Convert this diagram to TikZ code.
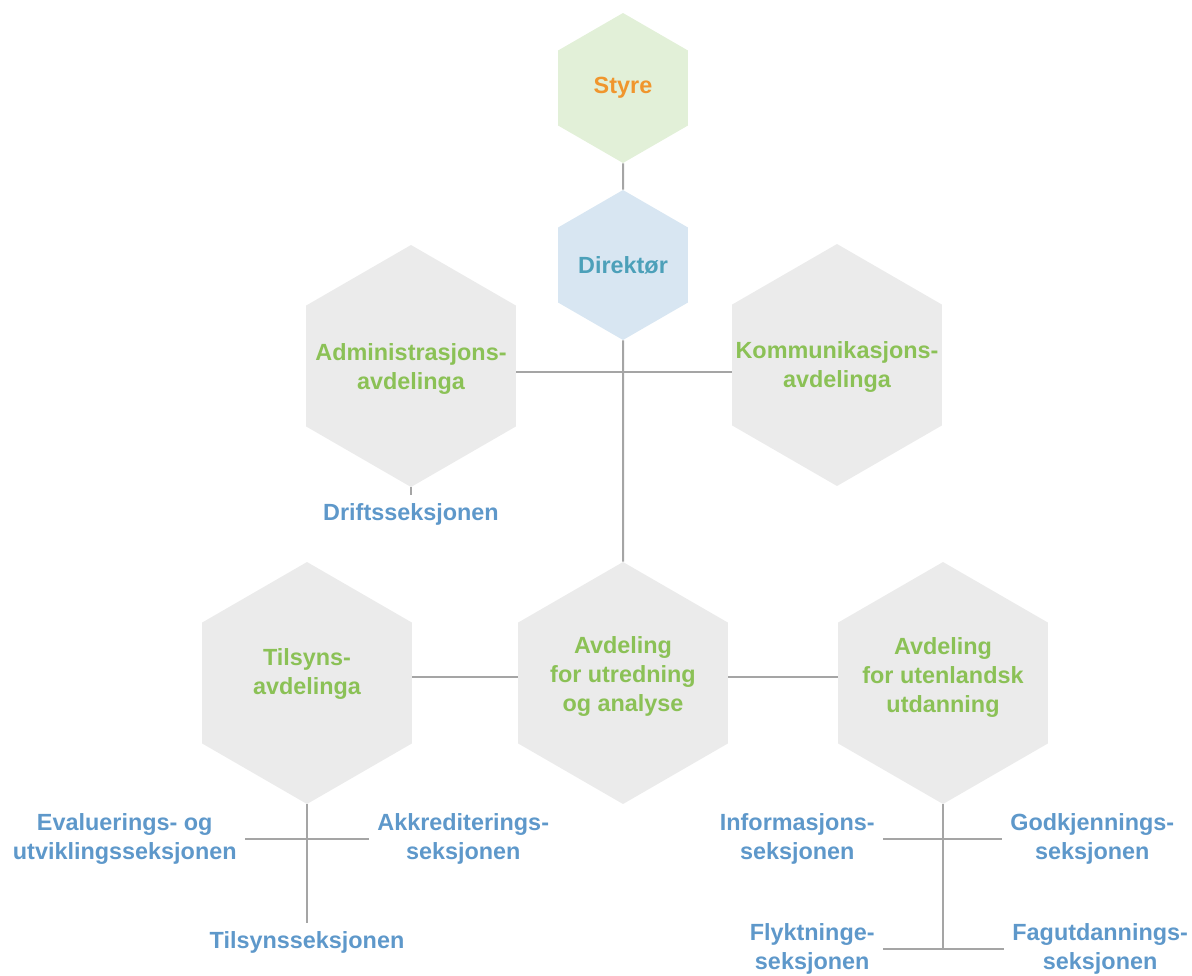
\documentclass[tikz,border=0pt]{standalone}
\usepackage{fontspec}
\setmainfont{Liberation Sans}
\usetikzlibrary{shapes.geometric}

\definecolor{hexgrey}{RGB}{235,235,235}
\definecolor{styrefill}{RGB}{226,240,216}
\definecolor{dirfill}{RGB}{216,230,242}
\definecolor{deptgreen}{RGB}{139,193,86}
\definecolor{styreorange}{RGB}{240,150,45}
\definecolor{dirteal}{RGB}{76,160,185}
\definecolor{sectblue}{RGB}{94,152,202}
\definecolor{linegrey}{RGB}{165,165,165}

\tikzset{
	hexshape/.style={regular polygon, regular polygon sides=6, shape border rotate=30, draw=none, inner sep=0pt},
	bighex/.style={hexshape, fill=hexgrey, minimum size=121pt},
	smallhex/.style={hexshape, minimum size=75pt, font=\bfseries\fontsize{11.7}{14.5}\selectfont},
	depttxt/.style={font=\bfseries\fontsize{11.7}{14.5}\selectfont, text=deptgreen, align=center, inner sep=0pt},
	secttxt/.style={font=\bfseries\fontsize{11.7}{14.5}\selectfont, text=sectblue, align=center, inner sep=4pt},
	conn/.style={draw=linegrey, line width=1pt}
}

\begin{document}
\begin{tikzpicture}[x=0.5pt, y=-0.5pt]
	\useasboundingbox (0,0) rectangle (1192,975);

	\node[smallhex, fill=styrefill, text=styreorange] (styre) at (623,88) {Styre};
	\node[smallhex, fill=dirfill, text=dirteal] (dir) at (623,265) {Direktør};

	\node[bighex] (adm) at (411,366) {};
	\node[bighex] (komm) at (837,365) {};
	\node[bighex] (tils) at (307,683) {};
	\node[bighex] (ana) at (623,683) {};
	\node[bighex] (uten) at (943,683) {};

	\node[depttxt] (admtxt) at (411,369) {Administrasjons-\\avdelinga};
	\node[depttxt] (kommtxt) at (837,367) {Kommunikasjons-\\avdelinga};
	\node[depttxt] (tilstxt) at (307,674) {Tilsyns-\\avdelinga};
	\node[depttxt] (anatxt) at (623,676) {Avdeling\\for utredning\\og analyse};
	\node[depttxt] (utentxt) at (943,677) {Avdeling\\for utenlandsk\\utdanning};

	\node[secttxt] (drift) at (411,514) {Driftsseksjonen};
	\node[secttxt, anchor=east] (eval) at (245,839) {Evaluerings- og\\utviklingsseksjonen};
	\node[secttxt, anchor=west] (akk) at (369,839) {Akkrediterings-\\seksjonen};
	\node[secttxt] (tilsyn) at (307,942) {Tilsynsseksjonen};
	\node[secttxt, anchor=east] (info) at (883,839) {Informasjons-\\seksjonen};
	\node[secttxt, anchor=west] (godk) at (1002,839) {Godkjennings-\\seksjonen};
	\node[secttxt, anchor=east] (flykt) at (883,949) {Flyktninge-\\seksjonen};
	\node[secttxt, anchor=west] (fag) at (1004,949) {Fagutdannings-\\seksjonen};

	\coordinate (dirj) at (623,372);
	\coordinate (anaj) at (623,677);

	\path [conn] (styre) edge (dir);
	\path [conn] (dir.south) edge (ana.north);
	\path [conn] (adm.east |- dirj) edge (komm.west |- dirj);
	\path [conn] (adm.south) edge (drift.north);
	\path [conn] (tils.east |- anaj) edge (ana.west |- anaj);
	\path [conn] (ana.east |- anaj) edge (uten.west |- anaj);
	\path [conn] (tils.south) edge (tilsyn.north);
	\path [conn] (eval.east) edge (akk.west);
	\path [conn] (uten.south) edge (uten.south |- flykt.east);
	\path [conn] (info.east) edge (godk.west);
	\path [conn] (flykt.east) edge (fag.west);
\end{tikzpicture}
\end{document}
